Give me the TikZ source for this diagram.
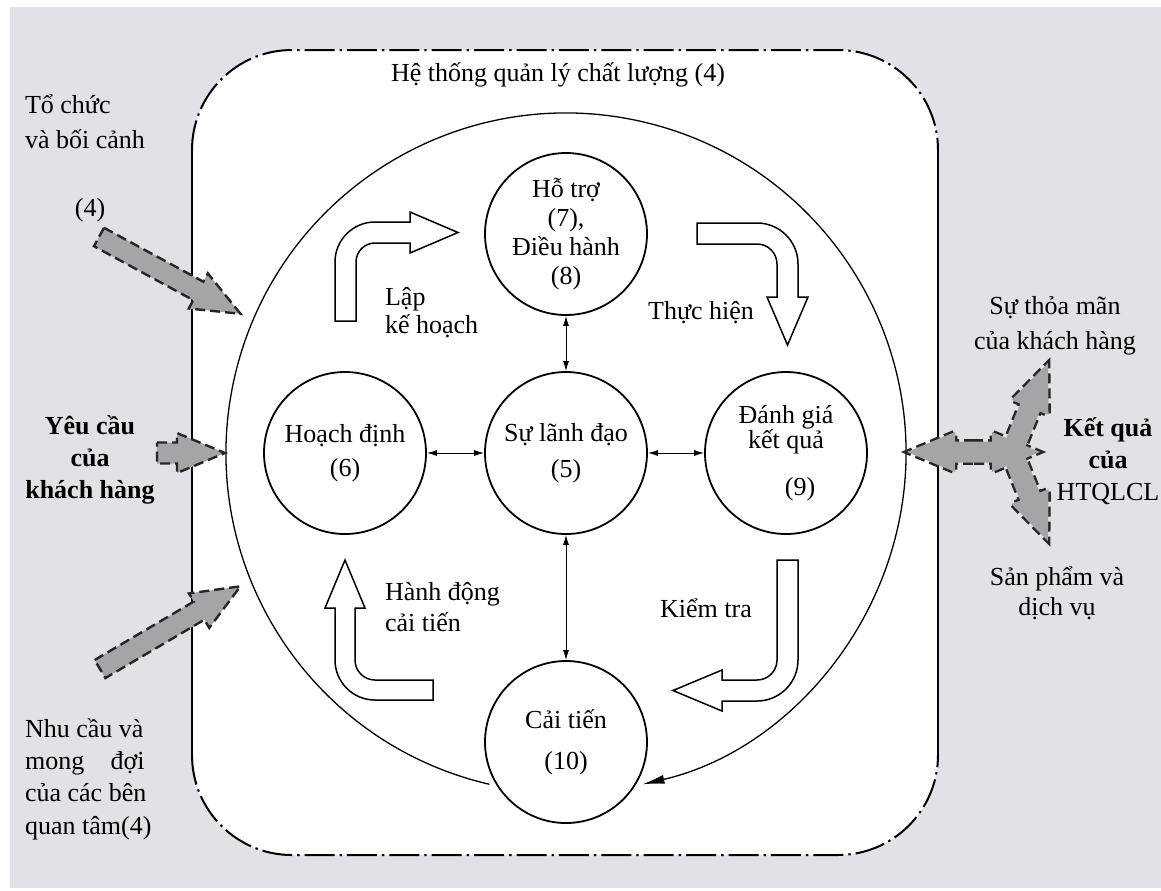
\documentclass[tikz,border=0pt]{standalone}
\usepackage{fontspec}
\setmainfont{Liberation Serif}
\usetikzlibrary{arrows.meta}
\definecolor{bggray}{RGB}{225,226,229}
\definecolor{arrgray}{RGB}{165,165,167}
% gray block arrow: tail point, angle, length
\newcommand{\garrow}[4][]{%
  \path[#1,shift={(#2)},rotate=#3] (0,-10.5) -- ({#4-48},-10.5) -- ({#4-48},-20) -- (#4,0)
    -- ({#4-48},20) -- ({#4-48},10.5) -- (0,10.5) -- cycle;}
\begin{document}
\begin{tikzpicture}[x=0.5pt,y=-0.5pt,
  every node/.style={font=\fontsize{13}{16}\selectfont},
  phase/.style={circle,draw,line width=0.9pt,minimum size=81pt,inner sep=0pt,align=center},
  link/.style={{Latex[length=5pt,width=3pt]}-{Latex[length=5pt,width=3pt]},line width=0.5pt},
  turnarrow/.style={draw,fill=white,line width=0.75pt},
  grayarr/.style={fill=arrgray},
  grayedge/.style={draw=black!85,dash pattern=on 5pt off 2.5pt,line width=1.2pt},
  dashdot/.style={line width=1pt,dash pattern=on 15pt off 2.5pt on 1.2pt off 2.5pt}]
\useasboundingbox (0,0) rectangle (1161,890);
\fill[bggray] (10,7) rectangle (1161,888);

% system frame
\fill[white,rounded corners=50pt] (192,50) rectangle (938,855);
\draw[dashdot] (192,150) arc (180:270:100) -- (838,50) arc (270:360:100);
\draw[dashdot] (192,755) arc (180:90:100) -- (838,855) arc (90:0:100);
\draw[line width=1pt] (192,150) -- (192,755);
\draw[line width=1pt] (938,150) -- (938,755);
\node (qms) at (558,75) {Hệ thống quản lý chất lượng (4)};

% phases
\node[phase,font=\fontsize{13}{14.5}\selectfont] (supp) at (566,234) {Hỗ trợ\\(7),\\Điều hành\\(8)};
\node[phase,font=\fontsize{13}{18}\selectfont] (lead) at (566,453) {Sự lãnh đạo\\(5)};
\node[phase,font=\fontsize{13}{17}\selectfont] (plan) at (345,453) {Hoạch định\\(6)};
\node[phase,font=\fontsize{13}{12.5}\selectfont] (eval) at (786,453) {Đánh giá\\kết quả\\[11pt]\hspace*{14pt}(9)};
\node[phase,font=\fontsize{13}{20.5}\selectfont] (impr) at (566,742) {Cải tiến\\(10)};

\draw[link] (plan) -- (lead);
\draw[link] (lead) -- (eval);
\draw[link] (supp) -- (lead);
\draw[link] (lead) -- (impr);

% PDCA loop
\draw[line width=0.65pt,-{Latex[length=11pt,width=4.5pt]}] ([shift={(103:340)}]lead.center)
  arc[start angle=103,end angle=437,radius=340];

\draw[turnarrow] (335,321) -- (335,262) arc (180:270:40) -- (410,222) -- (410,212) -- (458,232.5)
  -- (410,253) -- (410,243) -- (375,243) arc (270:180:19) -- (356,321) -- cycle;
\draw[turnarrow] (697,223) -- (757,223) arc (270:360:41) -- (798,297) -- (808,297) -- (787.5,345)
  -- (767,297) -- (777,297) -- (777,264) arc (0:-90:20) -- (697,244) -- cycle;
\draw[turnarrow] (777,560) -- (798,560) -- (798,660) arc (0:90:41) -- (722,701) -- (722,711)
  -- (673,690.5) -- (722,670) -- (722,680) -- (757,680) arc (90:0:20) -- cycle;
\draw[turnarrow] (433,680) -- (375,680) arc (90:180:20) -- (355,608) -- (365,608) -- (345,560)
  -- (325,608) -- (335,608) -- (335,660) arc (180:90:40) -- (433,700) -- cycle;

\node[anchor=west,font=\fontsize{13}{14}\selectfont,align=left] (plantxt) at (378,313) {Lập\\kế hoạch};
\node (dotxt) at (701,313) {Thực hiện};
\node (checktxt) at (706,608) {Kiểm tra};
\node[anchor=west,font=\fontsize{13}{15.5}\selectfont,align=left] (acttxt) at (378,607) {Hành động\\cải tiến};

% inputs
\garrow[grayarr,grayedge]{99,237}{-28.5}{161}
\garrow[grayarr,grayedge]{157,453}{0}{68}
\garrow[grayarr,grayedge]{100,669}{30.5}{163}

% outputs
\garrow[grayedge,line width=2.4pt]{973,452}{180}{66}
\garrow[grayedge,line width=2.4pt]{973,452}{0}{67}
\garrow[grayedge,line width=2.4pt]{1012,452}{68}{96}
\garrow[grayedge,line width=2.4pt]{1012,452}{-68}{96}
\garrow[grayarr]{973,452}{180}{66}
\garrow[grayarr]{973,452}{0}{67}
\garrow[grayarr]{1012,452}{68}{96}
\garrow[grayarr]{1012,452}{-68}{96}

% side texts
\node[anchor=west,align=left,font=\fontsize{13}{17.5}\selectfont] (org) at (18,122) {Tổ chức\\và bối cảnh};
\node (orgref) at (90,210) {(4)};
\node[align=center,font=\bfseries\fontsize{13}{16}\selectfont] (req) at (90,460) {Yêu cầu\\của\\khách hàng};
\node[anchor=west,align=left,font=\fontsize{13}{16.2}\selectfont] (needs) at (18,779)
  {Nhu cầu và\\\makebox[4.6em][s]{mong đợi}\\của các bên\\quan tâm(4)};
\node[align=center,font=\fontsize{13}{17.5}\selectfont] (sat) at (1055,326) {Sự thỏa mãn\\của khách hàng};
\node[align=center] (res) at (1108,461) {\textbf{Kết quả}\\\textbf{của}\\HTQLCL};
\node[align=center,font=\fontsize{13}{15}\selectfont] (prod) at (1057,593) {Sản phẩm và\\dịch vụ};
\end{tikzpicture}
\end{document}
